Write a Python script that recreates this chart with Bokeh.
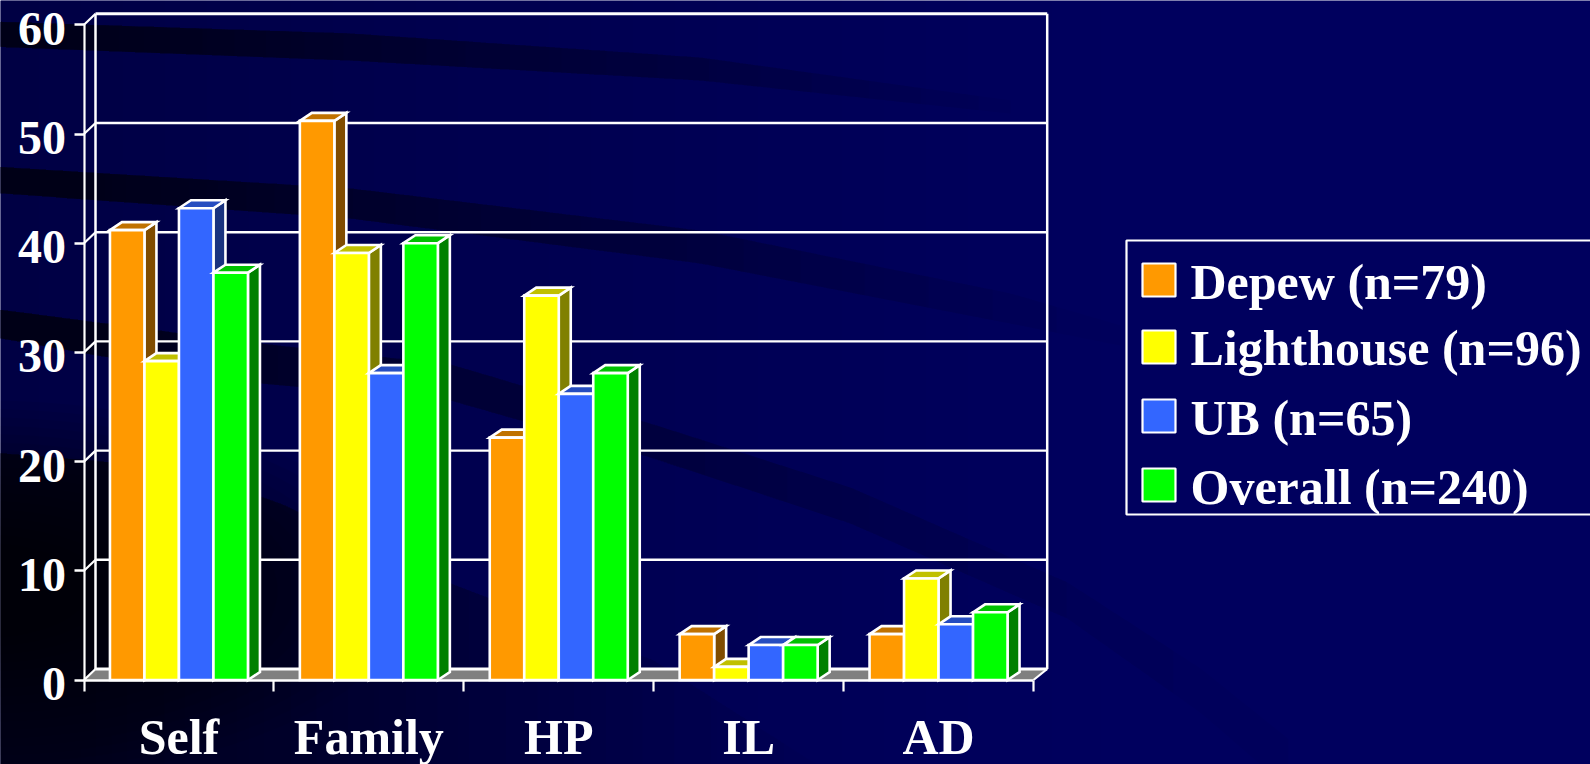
import numpy as np
from bokeh.core.properties import value
from bokeh.embed import file_html
from bokeh.models import FixedTicker, LinearAxis, Range1d
from bokeh.plotting import figure
from bokeh.resources import INLINE

# Survey results by group and response category
categories = ["Self", "Family", "HP", "IL", "AD"]
series_names = ["Depew (n=79)", "Lighthouse (n=96)", "UB (n=65)", "Overall (n=240)"]
depew = [41.2, 51.2, 22.2, 4.2, 4.2]
lighthouse = [29.2, 39.1, 35.2, 1.2, 9.3]
ub = [43.2, 28.1, 26.2, 3.2, 5.1]
overall = [37.3, 40, 28.1, 3.2, 6.2]
y_ticks = [0, 10, 20, 30, 40, 50, 60]

front_colors = ["#FF9900", "#FFFF00", "#3366FF", "#00FF00"]
top_colors = ["#C07200", "#C0C000", "#264DC0", "#00C000"]
side_colors = ["#804C00", "#808000", "#1A3380", "#008000"]

WIDTH, HEIGHT = 1590, 764
BG = "#00005E"
SERIF = "Liberation Serif"

# Window layout: the value axis crosses at x0, the category axis at y0
X0, Y0 = 83.5, 679.5
GROUP_PX, UNIT_PX = 189.9, 10.92
BAR_PX = 34.5
BAR_DX, BAR_DY = 12.0, 8.0
WALL_LEFT, WALL_RIGHT, WALL_DY = 95.0, 1046.7, 11.0
LABEL_DROP = 4.0


def gx(px):
    return (np.asarray(px, dtype=float) - X0) / GROUP_PX


def gy(py):
    return (Y0 - np.asarray(py, dtype=float)) / UNIT_PX


p = figure(
    width=WIDTH, height=HEIGHT, output_backend="svg", toolbar_location=None,
    x_range=Range1d(float(gx(0)), float(gx(WIDTH))),
    y_range=Range1d(float(gy(HEIGHT)), float(gy(0))),
    min_border=0, x_axis_type=None, y_axis_type=None,
    background_fill_color=BG, border_fill_color=BG, outline_line_color=None,
)
p.grid.visible = False


# Backdrop: soft dark swooshes that fade out towards the right
def fade_shape(px_x, top, bottom, fade_from, fade_to, total_alpha, power=1.0, layers=26):
    """Stack of clipped polygons whose accumulated opacity falls off with x."""
    step = 1 - (1 - total_alpha) ** (1 / layers)
    fine = np.linspace(px_x[0], px_x[-1], 160)
    t = np.interp(fine, px_x, top)
    b = np.interp(fine, px_x, bottom)
    xs, ys = [], []
    for u in np.linspace(0, 1, layers):
        lim = fade_from + (fade_to - fade_from) * u ** power
        keep = fine <= lim
        if keep.sum() < 2:
            continue
        xx, tt, bb = fine[keep], t[keep], b[keep]
        xs.append(gx(np.r_[xx, xx[::-1]]).tolist())
        ys.append(gy(np.r_[tt, bb[::-1]]).tolist())
    p.patches(xs, ys, fill_color="#000000", fill_alpha=step, line_color=None)


# broad darkening towards the left edge
fade_shape([-10, 1100], [-10, -10], [780, 780], 40, 1100, 0.16)
# upper band
fade_shape([-10, 350, 700, 1010], [21, 33, 57, 100], [46, 60, 80, 113], 60, 1040, 0.58, power=1.5)
# second band
fade_shape([-10, 350, 700, 1010, 1120], [166, 188, 230, 293, 325], [192, 218, 263, 323, 345],
           100, 1130, 0.58, power=1.7)
# third band, sweeping down to the lower edge
c3 = np.array([322, 362, 382, 440, 505, 600, 690, 770])
h3 = np.array([14, 20, 18, 17, 18, 18, 22, 25])
fade_shape([-10, 250, 450, 650, 850, 1067, 1200, 1296], c3 - h3, c3 + h3, 150, 1290, 0.55, power=2.6)
# lower-left wedge
fade_shape([-10, 175, 280, 450, 653, 826], [452, 467, 503, 583, 660, 770],
           [780, 780, 780, 780, 780, 780], 100, 826, 0.45, power=1.3)

# deep shadow around the lower-left corner
sx, sy = [], []
angles = np.linspace(0, 2 * np.pi, 80)
for k in np.linspace(1, 0.25, 18):
    sx.append(gx(-20 + 430 * k * np.cos(angles)).tolist())
    sy.append(gy(590 + 190 * k * np.sin(angles)).tolist())
p.patches(sx, sy, fill_color="#000000", fill_alpha=0.045, line_color=None)

# Chart floor and back wall
wall_l, wall_r = float(gx(WALL_LEFT)), float(gx(WALL_RIGHT))
wall_up = WALL_DY / UNIT_PX
p.patch([0, wall_l, wall_r, len(categories)], [0, wall_up, wall_up, 0],
        fill_color="#808080", line_color=None)
for v in y_ticks:
    w = 3 if v in (0, 60) else 2.4
    p.line([wall_l, wall_r], [v + wall_up, v + wall_up], line_color="#FFFFFF", line_width=w)
    p.line([0, wall_l], [v, v + wall_up], line_color="#FFFFFF", line_width=2.2)
p.line([wall_l, wall_l], [wall_up, 60 + wall_up], line_color="#FFFFFF", line_width=2.5)
p.line([wall_r, wall_r], [wall_up, 60 + wall_up], line_color="#FFFFFF", line_width=2.5)
p.line([len(categories), wall_r], [0, wall_up], line_color="#FFFFFF", line_width=2.2)

# Clustered 3-D columns, painted left to right so nearer faces overlap
series = [depew, lighthouse, ub, overall]
bw = BAR_PX / GROUP_PX
dx, dy = BAR_DX / GROUP_PX, BAR_DY / UNIT_PX
outline = dict(line_color="#FFFFFF", line_width=2.6, line_join="miter")
for g in range(len(categories)):
    left = g + 0.5 - 2 * bw
    for s, vals in enumerate(series):
        v = vals[g]
        x0, x1 = left + s * bw, left + (s + 1) * bw
        p.patch([x1, x1 + dx, x1 + dx, x1], [0, dy, v + dy, v],
                fill_color=side_colors[s], **outline)
        p.patch([x0, x0 + dx, x1 + dx, x1], [v, v + dy, v + dy, v],
                fill_color=top_colors[s], **outline)
        p.quad(left=x0, right=x1, bottom=0, top=v, fill_color=front_colors[s], **outline)

# Axes cross inside the frame, at the front corner of the chart
y_axis = LinearAxis(
    fixed_location=0, bounds=(0, 60),
    ticker=FixedTicker(ticks=y_ticks),
    axis_line_color="#FFFFFF", axis_line_width=2.2,
    major_tick_line_color="#FFFFFF", major_tick_line_width=2.6,
    major_tick_in=0, major_tick_out=10, minor_tick_in=0, minor_tick_out=0,
    major_label_text_font_size="0px", major_label_text_color=None,
)
p.add_layout(y_axis, "left")

# Value labels sit a little below their ticks, so they use a slightly shifted range
p.extra_y_ranges["value_labels"] = Range1d((Y0 + LABEL_DROP - HEIGHT) / UNIT_PX,
                                           (Y0 + LABEL_DROP) / UNIT_PX)
label_axis = LinearAxis(
    fixed_location=0, y_range_name="value_labels",
    ticker=FixedTicker(ticks=y_ticks),
    axis_line_color=None, major_tick_line_color=None, minor_tick_line_color=None,
    major_tick_in=0, major_tick_out=10, minor_tick_in=0, minor_tick_out=0,
    major_label_text_color="#FFFFFF", major_label_text_font=SERIF,
    major_label_text_font_style="bold", major_label_text_font_size="48px",
    major_label_standoff=8,
)
p.add_layout(label_axis, "left")

x_axis = LinearAxis(
    fixed_location=0, bounds=(0, len(categories)),
    ticker=FixedTicker(ticks=[i + 0.5 for i in range(len(categories))],
                       minor_ticks=list(range(len(categories) + 1))),
    major_label_overrides={i + 0.5: c for i, c in enumerate(categories)},
    axis_line_color="#FFFFFF", axis_line_width=2.4,
    major_tick_in=0, major_tick_out=0,
    minor_tick_line_color="#FFFFFF", minor_tick_line_width=2.2,
    minor_tick_in=0, minor_tick_out=11,
    major_label_text_color="#FFFFFF", major_label_text_font=SERIF,
    major_label_text_font_style="bold", major_label_text_font_size="50px",
    major_label_standoff=18,
)
p.add_layout(x_axis, "below")

# Legend box runs off the right edge of the window
p.quad(left=float(gx(1126)), right=float(gx(1640)), bottom=float(gy(514)), top=float(gy(240)),
       fill_color=None, line_color="#FFFFFF", line_width=2.2)
swatch_tops = [263, 330, 399, 468]
text_middles = [281, 347, 417, 486]
for name, color, t, mid in zip(series_names, front_colors, swatch_tops, text_middles):
    p.quad(left=float(gx(1142)), right=float(gx(1175)), top=float(gy(t)), bottom=float(gy(t + 33)),
           fill_color=color, line_color="#FFFFFF", line_width=2.2)
    p.text(x=[float(gx(1190))], y=[float(gy(mid))], text=[name], text_color="#FFFFFF",
           text_font=value(SERIF), text_font_style="bold", text_font_size="50px",
           text_baseline="middle", text_align="left")

open("out.html", "w").write(file_html(p, INLINE))
